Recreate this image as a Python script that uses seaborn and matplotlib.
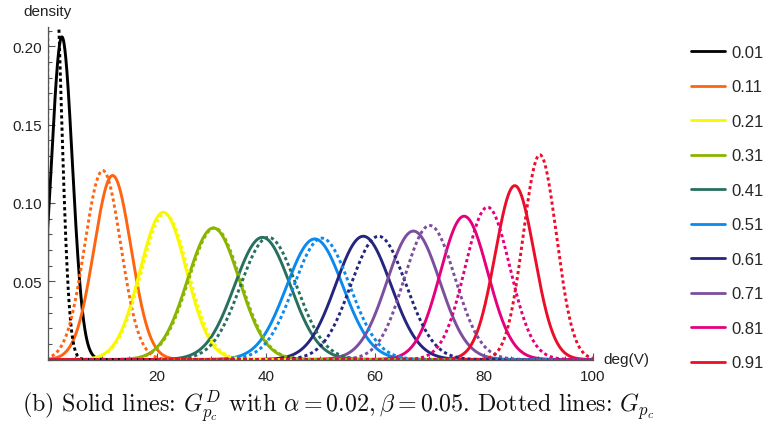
import numpy as np
import pandas as pd
import matplotlib
matplotlib.use("Agg")
import matplotlib.pyplot as plt
import seaborn as sns
from matplotlib.ticker import FixedLocator, MultipleLocator
from matplotlib.lines import Line2D

# ---- data ----
p_labels = ["0.01", "0.11", "0.21", "0.31", "0.41", "0.51", "0.61", "0.71", "0.81", "0.91"]
colors = ["#000000", "#FF6410", "#F8F800", "#8AB400", "#27705E", "#0A8AEE",
          "#25257F", "#7C4E9E", "#E6007E", "#EA0E2A"]
solid_peak_x = [2.6, 11.9, 21.2, 30.4, 39.4, 49.0, 57.9, 67.1, 76.4, 85.7]
solid_peak_y = [0.206, 0.1175, 0.094, 0.084, 0.078, 0.077, 0.0787, 0.082, 0.0915, 0.111]
dotted_peak_x = [1.0, 10.1, 21.5, 30.6, 40.5, 50.3, 60.7, 70.1, 80.7, 90.3]
dotted_peak_y = [0.275, 0.1207, 0.093, 0.084, 0.078, 0.0775, 0.0787, 0.0856, 0.0973, 0.1307]
x_ticks = [20, 40, 60, 80, 100]
y_ticks = [0.05, 0.10, 0.15, 0.20]
y_tick_labels = ["0.05", "0.10", "0.15", "0.20"]

sns.set_style("white")
plt.rcParams["font.family"] = ["Liberation Sans", "DejaVu Sans"]
plt.rcParams["mathtext.fontset"] = "cm"

grid = np.linspace(-0.3, 100, 2000)


def density(peak_x, peak_y):
    s = 1.0 / (peak_y * np.sqrt(2 * np.pi))
    return np.where(grid >= 0, peak_y * np.exp(-0.5 * ((grid - peak_x) / s) ** 2), 0.0)


rows = []
for lab, sx, sy, dx, dy in zip(p_labels, solid_peak_x, solid_peak_y, dotted_peak_x, dotted_peak_y):
    rows.append(pd.DataFrame({"x": grid, "y": density(sx, sy), "p": lab, "kind": "solid"}))
    rows.append(pd.DataFrame({"x": grid, "y": density(dx, dy), "p": lab, "kind": "dotted"}))
df = pd.concat(rows, ignore_index=True)

fig = plt.figure(figsize=(7.76, 4.27), dpi=100)
ax = fig.add_axes([0.0615, 0.1557, 0.7023, 0.7787])

lw = 2.1
for kind, ls in [("solid", "-"), ("dotted", (0, (1.1, 1.0)))]:
    for lab, col in zip(p_labels, colors):
        sub = df[(df.kind == kind) & (df.p == lab)]
        sns.lineplot(data=sub, x="x", y="y", color=col, lw=lw, linestyle=ls,
                     ax=ax, sort=False, estimator=None, legend=False)

ax.set_xlim(0, 100)
ax.set_ylim(0, 0.2123)
ax.set_xlabel("")
ax.set_ylabel("")
for side in ["top", "right"]:
    ax.spines[side].set_visible(False)
for side in ["left", "bottom"]:
    ax.spines[side].set_color("#555555")
    ax.spines[side].set_linewidth(0.9)

ax.xaxis.set_major_locator(FixedLocator(x_ticks))
ax.xaxis.set_minor_locator(MultipleLocator(5))
ax.yaxis.set_major_locator(FixedLocator(y_ticks))
ax.set_yticklabels(y_tick_labels)
ax.yaxis.set_minor_locator(MultipleLocator(0.01))
ax.tick_params(which="both", direction="in", colors="#555555", labelcolor="#222222",
               labelsize=11, width=0.8, bottom=True, left=True)
ax.tick_params(which="major", length=5, pad=4)
ax.tick_params(which="minor", length=3)
ax.tick_params(axis="x", pad=7)

fig.text(0.0615, 0.972, "density", ha="center", va="center", fontsize=11, color="#222222")
fig.text(0.778, 0.157, "deg(V)", ha="left", va="center", fontsize=11, color="#222222")

handles = [Line2D([0], [0], color=c, lw=2.0) for c in colors]
leg = fig.legend(handles, p_labels, loc="upper left", bbox_to_anchor=(0.8825, 0.908),
                 frameon=False, fontsize=12, handlelength=2.0, handletextpad=0.4,
                 labelspacing=1.17, borderaxespad=0)

fig.text(0.028, 0.05,
         r"(b) Solid lines: $G^{D}_{p_c}$ with $\alpha = 0.02, \beta = 0.05$. Dotted lines: $G_{p_c}$",
         ha="left", va="center", fontsize=17.3, family=["cmr10", "DejaVu Serif"], color="#111111")

fig.savefig("out.png", dpi=100)
